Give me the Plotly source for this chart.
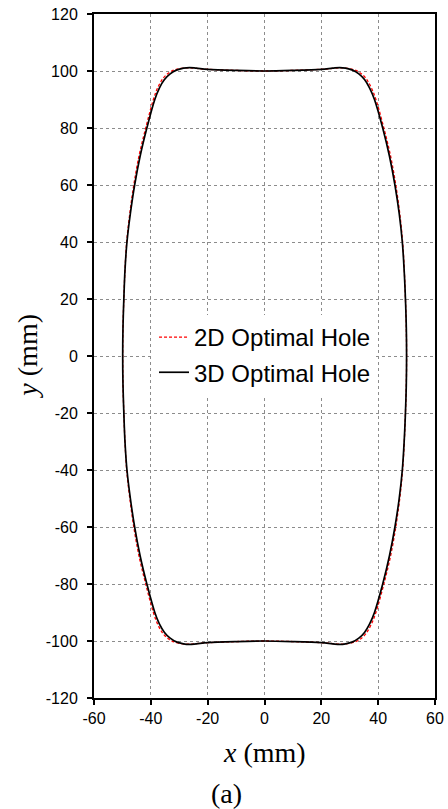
import plotly.graph_objects as go

# Optimal hole contours (mm), traced counter-clockwise from (50, 0)
x_3d = [50.0, 49.9, 49.6, 49.15, 48.5, 47.4, 45.9, 44.0, 41.6, 38.7, 37.0, 35.2, 33.2, 31.0, 28.5, 26.5, 24.0, 20.0, 10.0, 0.0,
        -10.0, -20.0, -24.0, -26.4, -28.5, -31.0, -33.2, -35.2, -37.0, -38.6, -41.4, -43.8, -45.7, -47.2, -48.4, -49.1, -49.5, -49.8, -49.9,
        -49.8, -49.5, -49.1, -48.4, -47.2, -45.7, -43.8, -41.4, -38.6, -37.0, -35.2, -33.2, -31.0, -28.5, -26.4, -24.0, -20.0, -10.0, 0.0,
        10.0, 20.0, 24.0, 26.5, 28.5, 31.0, 33.2, 35.2, 37.0, 38.7, 41.6, 44.0, 45.9, 47.4, 48.5, 49.15, 49.6, 49.9, 50.0]
y_3d = [0.0, 10.0, 20.0, 30.0, 40.0, 50.0, 60.0, 70.0, 80.0, 90.0, 94.0, 97.0, 99.0, 100.3, 101.0, 101.2, 101.0, 100.6, 100.2, 100.0,
        100.2, 100.6, 101.0, 101.2, 101.0, 100.3, 99.0, 97.0, 94.0, 90.0, 80.0, 70.0, 60.0, 50.0, 40.0, 30.0, 20.0, 10.0, 0.0,
        -10.0, -20.0, -30.0, -40.0, -50.0, -60.0, -70.0, -80.0, -90.0, -94.0, -97.0, -99.0, -100.3, -101.0, -101.2, -101.0, -100.6, -100.2, -100.0,
        -100.2, -100.6, -101.0, -101.2, -101.0, -100.3, -99.0, -97.0, -94.0, -90.0, -80.0, -70.0, -60.0, -50.0, -40.0, -30.0, -20.0, -10.0, 0.0]

x_2d = [50.0, 49.9, 49.6, 49.2, 48.6, 47.6, 46.2, 44.4, 42.0, 39.2, 37.5, 35.7, 33.6, 31.3, 28.6, 26.5, 24.0, 20.0, 10.0, 0.0,
        -10.0, -20.0, -24.0, -26.4, -28.6, -31.3, -33.6, -35.7, -37.5, -39.1, -41.8, -44.2, -46.0, -47.4, -48.5, -49.1, -49.5, -49.8, -49.9,
        -49.8, -49.5, -49.1, -48.5, -47.4, -46.0, -44.2, -41.8, -39.1, -37.5, -35.7, -33.6, -31.3, -28.6, -26.4, -24.0, -20.0, -10.0, 0.0,
        10.0, 20.0, 24.0, 26.5, 28.6, 31.3, 33.6, 35.7, 37.5, 39.2, 42.0, 44.4, 46.2, 47.6, 48.6, 49.2, 49.6, 49.9, 50.0]
y_2d = [0.0, 10.0, 20.0, 30.0, 40.0, 50.0, 60.0, 70.0, 80.0, 90.0, 94.3, 97.4, 99.4, 100.5, 101.0, 101.1, 100.9, 100.6, 100.2, 100.0,
        100.2, 100.6, 100.9, 101.1, 101.0, 100.5, 99.4, 97.4, 94.3, 90.0, 80.0, 70.0, 60.0, 50.0, 40.0, 30.0, 20.0, 10.0, 0.0,
        -10.0, -20.0, -30.0, -40.0, -50.0, -60.0, -70.0, -80.0, -90.0, -94.3, -97.4, -99.4, -100.5, -101.0, -101.1, -100.9, -100.6, -100.2, -100.0,
        -100.2, -100.6, -100.9, -101.1, -101.0, -100.5, -99.4, -97.4, -94.3, -90.0, -80.0, -70.0, -60.0, -50.0, -40.0, -30.0, -20.0, -10.0, 0.0]

x_ticks = [-60, -40, -20, 0, 20, 40, 60]
y_ticks = [-120, -100, -80, -60, -40, -20, 0, 20, 40, 60, 80, 100, 120]

fig = go.Figure()
fig.add_trace(go.Scatter(
    x=x_2d, y=y_2d, mode="lines", name="2D Optimal Hole", legendgroup="g2d",
    line=dict(color="#ff0000", width=1.3, dash="3px,2px", shape="spline", smoothing=1.0),
))
fig.add_trace(go.Scatter(
    x=x_3d, y=y_3d, mode="lines", name="3D Optimal Hole", legendgroup="g3d",
    line=dict(color="#000000", width=1.7, shape="spline", smoothing=1.0),
))

tick_font = dict(family="Liberation Sans, Arial, sans-serif", size=16, color="#000000")
axis_common = dict(
    showline=True, linecolor="#000000", linewidth=2, mirror=True,
    ticks="outside", ticklen=5, tickwidth=2, tickcolor="#000000",
    showgrid=True, gridcolor="#8c8c8c", gridwidth=1, griddash="dot",
    zeroline=False, tickfont=tick_font, automargin=False,
)

fig.update_xaxes(range=[-60, 60], tickvals=x_ticks, ticktext=[str(v) for v in x_ticks], **axis_common)
fig.update_yaxes(range=[-120, 120], tickvals=y_ticks, ticktext=[str(v) for v in y_ticks],
                 ticklabelstandoff=6, **axis_common)

serif = "Liberation Serif, Times New Roman, serif"
fig.update_layout(
    width=448, height=809,
    margin=dict(l=94, r=13, t=14, b=111),
    paper_bgcolor="#ffffff", plot_bgcolor="#ffffff",
    showlegend=True,
    legend=dict(
        x=0.176, y=0.560, xanchor="left", yanchor="top",
        bgcolor="#ffffff", borderwidth=0,
        font=dict(family="Liberation Sans, Arial, sans-serif", size=24, color="#000000"),
        itemwidth=30, traceorder="grouped", tracegroupgap=1,
    ),
    annotations=[
        dict(text="<i>x</i> (mm)", xref="paper", yref="paper", x=0.5, y=(698 - 752) / 684,
             xanchor="center", yanchor="middle", showarrow=False,
             font=dict(family=serif, size=28, color="#000000")),
        dict(text="<i>y</i> (mm)", xref="paper", yref="paper", x=(27 - 94.3) / 340.7, y=0.5,
             xanchor="center", yanchor="middle", showarrow=False, textangle=-90,
             font=dict(family=serif, size=28, color="#000000")),
        dict(text="(a)", xref="paper", yref="paper", x=(227 - 94.3) / 340.7, y=(698 - 793) / 684,
             xanchor="center", yanchor="middle", showarrow=False,
             font=dict(family=serif, size=28, color="#000000")),
    ],
)

fig.write_html("out.html")
